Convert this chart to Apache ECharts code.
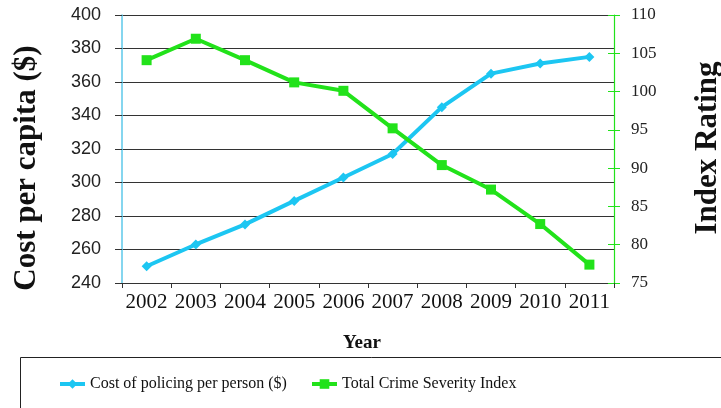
<!DOCTYPE html>
<html>
<head>
<meta charset="utf-8">
<script src="https://cdn.jsdelivr.net/npm/echarts@6/dist/echarts.min.js"></script>
<style>html,body{margin:0;padding:0;background:#fff;}#c{width:721px;height:408px;}</style>
</head>
<body>
<div id="c"></div>
<script>
const years = ['2002','2003','2004','2005','2006','2007','2008','2009','2010','2011'];
const costPerPerson = [250, 263, 275, 289, 303, 317, 345, 365, 371, 375];
const crimeIndex = [104.1, 106.9, 104.1, 101.2, 100.1, 95.2, 90.4, 87.2, 82.7, 77.4];
const leftTicks = {min: 240, max: 400, interval: 20};
const rightTicks = {min: 75, max: 110, interval: 5};

const BLUE = '#1cc6f2';
const GREEN = '#22e21a';
const serif = '"Liberation Serif", "Times New Roman", serif';
const sans = '"Liberation Sans", Arial, sans-serif';

const chart = echarts.init(document.getElementById('c'), null, {renderer: 'canvas'});
chart.setOption({
  animation: false,
  backgroundColor: '#fff',
  grid: {left: 122, right: 107, top: 15, bottom: 125, containLabel: false},
  legend: [
    {data: ['Cost of policing per person ($)'], left: 53, top: 371, itemWidth: 25, itemHeight: 12,
     lineStyle: {width: 4}, textStyle: {fontFamily: serif, fontSize: 16, color: '#111'}},
    {data: ['Total Crime Severity Index'], left: 305, top: 371, itemWidth: 25, itemHeight: 12,
     lineStyle: {width: 4}, textStyle: {fontFamily: serif, fontSize: 16, color: '#111'}}
  ],
  xAxis: {
    type: 'category', data: years, boundaryGap: true,
    axisLine: {lineStyle: {color: '#333', width: 1}},
    axisTick: {show: true, length: 5, lineStyle: {color: '#333'}},
    axisLabel: {fontFamily: serif, fontSize: 21, color: '#111', margin: 9, interval: 0},
    splitLine: {show: false}
  },
  yAxis: [
    {type: 'value', position: 'left', min: leftTicks.min, max: leftTicks.max, interval: leftTicks.interval,
     axisLine: {show: true, lineStyle: {color: '#5cc8ea', width: 1.5}},
     axisTick: {show: true, length: 7, lineStyle: {color: '#333'}},
     axisLabel: {fontFamily: sans, fontSize: 18, color: '#222', margin: 21},
     splitLine: {show: true, lineStyle: {color: '#333', width: 1}}},
    {type: 'value', position: 'right', min: rightTicks.min, max: rightTicks.max, interval: rightTicks.interval,
     axisLine: {show: true, lineStyle: {color: GREEN, width: 1.2}},
     axisTick: {show: true, length: 6, lineStyle: {color: GREEN}},
     axisLabel: {fontFamily: serif, fontSize: 17, color: '#222', margin: 17},
     splitLine: {show: false}},
    {type: 'value', position: 'right', min: rightTicks.min, max: rightTicks.max, interval: rightTicks.interval,
     axisLine: {show: false},
     axisTick: {show: true, inside: true, length: 6, lineStyle: {color: GREEN}},
     axisLabel: {show: false},
     splitLine: {show: false}}
  ],
  series: [
    {name: 'Cost of policing per person ($)', type: 'line', yAxisIndex: 0, data: costPerPerson,
     symbol: 'diamond', symbolSize: 10, showSymbol: true,
     lineStyle: {color: BLUE, width: 4}, itemStyle: {color: BLUE}},
    {name: 'Total Crime Severity Index', type: 'line', yAxisIndex: 1, data: crimeIndex,
     symbol: 'rect', symbolSize: 10, showSymbol: true,
     lineStyle: {color: GREEN, width: 4}, itemStyle: {color: GREEN}}
  ],
  graphic: [
    {type: 'text', x: 27, y: 168, rotation: Math.PI / 2,
     style: {text: 'Cost per capita ($)', font: 'bold 31px ' + serif, fill: '#111', align: 'center', verticalAlign: 'middle'}},
    {type: 'text', x: 708, y: 148, rotation: Math.PI / 2,
     style: {text: 'Index Rating', font: 'bold 31px ' + serif, fill: '#111', align: 'center', verticalAlign: 'middle'}},
    {type: 'text', x: 362, y: 343,
     style: {text: 'Year', font: 'bold 19px ' + serif, fill: '#111', align: 'center', verticalAlign: 'middle'}},
    {type: 'rect', shape: {x: 20.5, y: 357.5, width: 720, height: 80},
     style: {fill: 'none', stroke: '#222', lineWidth: 1}, z: -1}
  ]
});
</script>
</body>
</html>
